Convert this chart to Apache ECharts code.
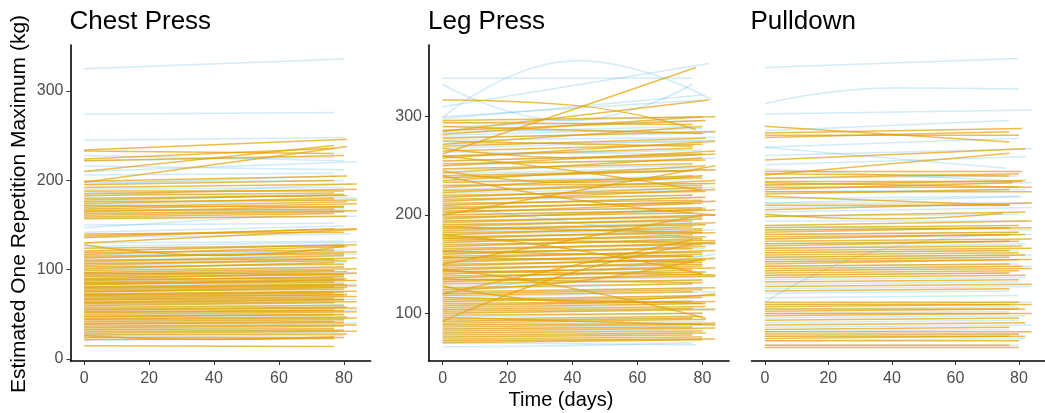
<!DOCTYPE html>
<html><head><meta charset="utf-8">
<script src="https://cdn.jsdelivr.net/npm/echarts@6/dist/echarts.min.js"></script>
<style>html,body{margin:0;padding:0;background:#fff}#c{width:1045px;height:413px}</style>
</head><body><div id="c"></div>
<script>
// Panel titles and axis text
const panelTitles = ['Chest Press', 'Leg Press', 'Pulldown'];
const yAxisTitle = 'Estimated One Repetition Maximum (kg)';
const xAxisTitle = 'Time (days)';
const xTicks = [0, 20, 40, 60, 80];
const chestTicks = [0, 100, 200, 300];
const legTicks = [100, 200, 300];
const pullTicks = [];

// Each line: [value at day 0, value at last day, last day, (optional value at mid-time)]
const chestBlue = [
[325,336,80],[274,276,77],[245,248,80],[228,222,80],[222,226,77],[216,212,80],[210,221,84],[206,208,77],
[198,200,80],[196,205,78],[190,192,80],[187,180,84],[182,196,82],[176,185,80],[172,178,77],[168,166,81],
[163,168,80],[158,160,84],[147,165,80],[150,152,77],[142,149,80],[136,140,82],[130,132,80],[126,131,84],
[120,129,80],[116,121,77],[113,122,80],[110,118,84],[107,115,80],[104,111,78],[100,108,81],[97,103,80],
[94,99,77],[90,97,84],[87,92,80],[84,88,77],[81,86,80],[78,84,84],[75,80,80],[72,76,77],[69,74,81],
[66,70,80],[63,67,84],[60,64,77],[57,61,80],[54,58,80],[51,55,84],[48,52,77],[45,49,80],[42,45,81],
[39,42,80],[36,40,84],[33,36,77],[30,33,80],[27,30,78],[24,27,80],[21,23,77]
];
const chestOrange = [
[234,246,81],[233,230,77],[224,236,77],[222,228,80],[210,239,77],[198,238,81],[199,205,81],[195,200,77],
[192,196,84],[188,188,80],[185,190,84],[183,186,77],[180,183,81],[178,184,80],[176,178,84],[174,180,77],
[172,170,80],[170,176,81],[168,174,84],[166,168,77],[165,171,80],[163,166,84],[161,165,80],[159,163,77],
[157,160,81],[140,142,80],[138,146,84],[136,146,77],[130,145,84],[128,126,80,116],[124,127,80],[121,128,84],
[119,122,77],[117,126,81],[115,118,80],[113,120,84],[111,112,77],[109,116,80],[107,110,81],[105,113,84],
[103,106,80],[101,108,77],[99,103,80],[97,101,84],[96,95,80],[95,99,77],[93,98,81],[92,94,80],[90,96,84],
[89,91,77],[88,92,80],[86,90,81],[85,88,84],[84,86,77],[83,89,80],[81,84,80],[80,83,81],[79,82,84],
[77,81,77],[76,78,80],[75,80,81],[73,76,84],[72,75,80],[71,74,77],[70,72,80],[68,72,81],[67,70,84],
[66,68,77],[64,67,80],[63,66,80],[62,64,84],[60,63,77],[58,60,80],[56,58,81],[55,57,84],[53,55,77],
[52,54,80],[50,53,84],[48,50,80],[47,50,77],[45,47,81],[44,46,84],[42,44,80],[40,42,77],[39,41,80],
[37,38,84],[35,37,80],[33,34,77],[31,32,80],[29,31,84],[27,28,81],[26,25,77,22],[24,24,80],[22,23,77],[15,14,77]
];

const legBlue = [
[333,333,77,296],[299,317,83,357],[339,339,77],[310,354,82],[300,317,80],[298,322,80],
[293,300,77],[290,296,80],[287,284,84],[284,290,77],[281,288,80],[279,283,81],[276,279,84],
[272,275,80],[268,276,84],[264,262,77],[260,266,80],[255,262,81],[250,258,84],[246,250,77],[242,248,80],
[238,246,84],[234,240,80],[230,236,77],[226,232,81],[222,228,84],[218,226,80],[214,220,77],[210,218,80],
[206,214,84],[203,208,81],[200,205,77],[197,204,80],[194,200,84],[190,196,80],[186,192,77],[183,190,81],
[180,185,84],[176,182,80],[172,178,77],[168,175,80],[164,170,84],[160,166,81],[156,162,77],[152,158,80],
[148,155,84],[144,150,80],[140,146,77],[136,142,81],[132,137,84],[128,134,80],[124,130,77],[120,126,80],
[116,122,84],[112,118,81],[108,113,77],[104,110,80],[100,105,84],[96,100,80],[92,96,77],[88,92,81],
[84,88,84],[80,84,80],[76,80,77],[72,74,80],[66,70,77,67],[70,68,78],[210,175,80],[120,160,84]
];
const legOrange = [
[317,287,78,312],[262,350,78],[285,317,82],[296,300,84],[294,292,77],[290,283,80],[286,296,81],[282,300,80],
[278,285,84],[275,270,77],[272,290,80],[270,278,81],[268,262,84,258],[265,272,80],[260,268,77],[258,275,84],
[255,262,80],[252,256,81],[250,265,84],[247,252,77],[245,240,80,233],[243,258,80],[240,246,84],[238,245,77],
[235,250,81],[233,238,80],[230,232,84],[228,240,77],[225,230,80],[223,235,84],[220,224,81],[218,228,80],
[216,220,77],[214,226,84],[212,215,80],[210,218,81],[208,212,77],[206,214,84],[204,207,80],[202,212,80],
[200,205,84],[198,202,77],[196,206,81],[194,198,80],[192,200,84],[190,194,77],[188,196,80],[186,190,81],
[184,192,84],[182,186,80],[180,188,77],[178,182,84],[176,184,80],[174,178,81],[172,180,77],[170,174,84],
[168,176,80],[166,170,80],[164,172,84],[162,166,77],[160,168,81],[158,162,80],[156,164,84],[154,158,77],
[152,160,80],[150,154,81],[148,156,84],[146,150,80],[144,152,77],[142,146,84],[140,148,80],[138,142,81],
[136,144,77],[134,138,84],[132,140,80],[130,134,80],[128,120,84,112],[126,130,77],[124,155,80,132],[122,126,84],
[120,124,80],[118,122,77],[116,110,81],[114,118,84],[112,116,80],[110,112,77],[108,112,84],[106,110,80],
[104,107,81],[102,105,77],[100,104,84],[98,100,80],[96,88,84,92],[94,97,80],[92,170,77,140],[92,95,77],
[90,94,81],[88,90,84],[86,89,80],[84,86,77],[82,85,84],[80,82,80],[78,80,81],[76,78,77],[74,76,80],[72,74,84],[70,73,80],
[150,200,80],[240,200,84,215],[180,140,80,165],[120,175,77],[200,250,84],[260,225,80,245],[145,95,81,125],
[188,182,80],[176,171,84],[163,158,77],[157,152,80],[143,139,84],[135,131,80]
];

const pullBlue = [
[140,144,80],[124,130.5,80,131],[119.4,121.2,84],[112,116.5,77],[104.7,108.7,80],[104.7,95.4,76],[97,100.5,82],
[101,104,84],[95,90,77],[91,92,80],[88,89,84],[85,86,82],[82,83,80],[80,82.8,81],[79.9,80,84],[78,79,77],
[76,78,84],[74,75,80],[72,72,82],[70,68,84],[68,69,77],[66,67,80],[64,66,84],[62,63,77],[60,62,82],
[58,59,80],[56,57,84],[54,56,77],[52,53,80],[50,52,84],[48,49,77],[46,47,82],[44,45,80],[42,43,84],
[40,41,77],[38,39,80],[36,66,77,60],[35,36,84],[33,34,80],[31,32,77],[29,30,82],[27,28,80],[25,26,84],
[23,24,77],[21,22,80],[19,20,82],[17,17,80]
];
const pullOrange = [
[114,107,77],[111,113,81],[109,111.6,77],[110,110,80],[99,104,82],[92.4,102,77],[94,94,81],[93,92,77],
[91,93,80],[89.5,89.5,81],[89,87,84],[88,90,82],[87,87,80],[86,89,78],[85,85,84],[84,86,77],[83,79,77],
[79,79,77],[77,80,84],[75,75.5,75,73],[74,76,82],[70,72,84],[69,70,80],[68,69,84],[67,69,77],[66,67,80],
[65,66,82],[64,66,77],[63,64,84],[62,63,80],[61,63,77],[60,61,81],[59,60,84],[58,59,77],[57,58,80],
[56,57,82],[55,56,77],[54,55,84],[53,55,80],[52,53,77],[51,52,81],[50,51,84],[49,50,80],[48,49,77],
[47,48,82],[45,46,80],[43,44,84],[41,42,77],[36,36,80],[35,35,84],[34,35,77],[33,33,82],[32,33,80],
[31,31,84],[30,31,77],[28,29,80],[26,27,82],[24,25,77],[23,23,84],[22,22,80],[21,21,82],[20,21,77],
[19,19,80],[17,17,77],[16,16,80]
];

const BLUE = '#56B4E9', ORANGE = '#E69F00';
const FONT = '"Liberation Sans", Arial, sans-serif';

function mk(lines, gi, color, opacity) {
  return lines.map(l => {
    const [a, b, xe, m] = l;
    const curved = m !== undefined;
    const data = curved ? [[0, a], [xe / 2, m], [xe, b]] : [[0, a], [xe, b]];
    return {
      type: 'line', xAxisIndex: gi, yAxisIndex: gi, data,
      smooth: curved ? 0.5 : false, symbol: 'none', silent: true, animation: false,
      lineStyle: { color, width: 1.5, opacity }
    };
  });
}

const grids = [
  { left: 70.5, top: 45, width: 300, height: 316 },
  { left: 429, top: 45, width: 300, height: 316 },
  { left: 751.5, top: 45, width: 300, height: 316 }
];
const yRanges = [[-2.2, 351.6], [51.5, 372.9], [10, 150]];
const yTickSets = [chestTicks, legTicks, pullTicks];

const xAxes = grids.map((g, i) => ({
  type: 'value', gridIndex: i, min: -4.2, max: 88.2,
  splitLine: { show: false },
  axisLine: { show: true, onZero: false, lineStyle: { color: '#000', width: 1.6 } },
  axisTick: { show: true, length: 4, customValues: xTicks, lineStyle: { color: '#333', width: 1 } },
  axisLabel: { customValues: xTicks, fontSize: 16, color: '#4D4D4D', fontFamily: FONT, margin: 10 }
}));
const yAxes = grids.map((g, i) => ({
  type: 'value', gridIndex: i, min: yRanges[i][0], max: yRanges[i][1],
  splitLine: { show: false },
  axisLine: { show: i < 2, onZero: false, lineStyle: { color: '#000', width: 1.6 } },
  axisTick: { show: i < 2, length: 4, customValues: yTickSets[i], lineStyle: { color: '#333', width: 1 } },
  axisLabel: { show: i < 2, customValues: yTickSets[i], fontSize: 16, color: '#4D4D4D', fontFamily: FONT, margin: 7 }
}));

const series = [].concat(
  mk(chestBlue, 0, BLUE, 0.27), mk(chestOrange, 0, ORANGE, 0.7),
  mk(legBlue, 1, BLUE, 0.27), mk(legOrange, 1, ORANGE, 0.7),
  mk(pullBlue, 2, BLUE, 0.27), mk(pullOrange, 2, ORANGE, 0.7)
);

const chart = echarts.init(document.getElementById('c'), null, { renderer: 'canvas' });
chart.setOption({
  animation: false,
  backgroundColor: '#fff',
  title: panelTitles.map((t, i) => ({
    text: t, left: grids[i].left - 6, top: 4,
    textStyle: { fontSize: 26, fontWeight: 'normal', color: '#000', fontFamily: FONT }
  })),
  grid: grids,
  xAxis: xAxes,
  yAxis: yAxes,
  series,
  graphic: [
    { type: 'text', x: 19, y: 204, rotation: Math.PI / 2,
      style: { text: yAxisTitle, fontSize: 21, fontFamily: FONT, fill: '#000', align: 'center', verticalAlign: 'middle' } },
    { type: 'text', x: 561, y: 400,
      style: { text: xAxisTitle, fontSize: 20, fontFamily: FONT, fill: '#000', align: 'center', verticalAlign: 'middle' } }
  ]
});
</script></body></html>
